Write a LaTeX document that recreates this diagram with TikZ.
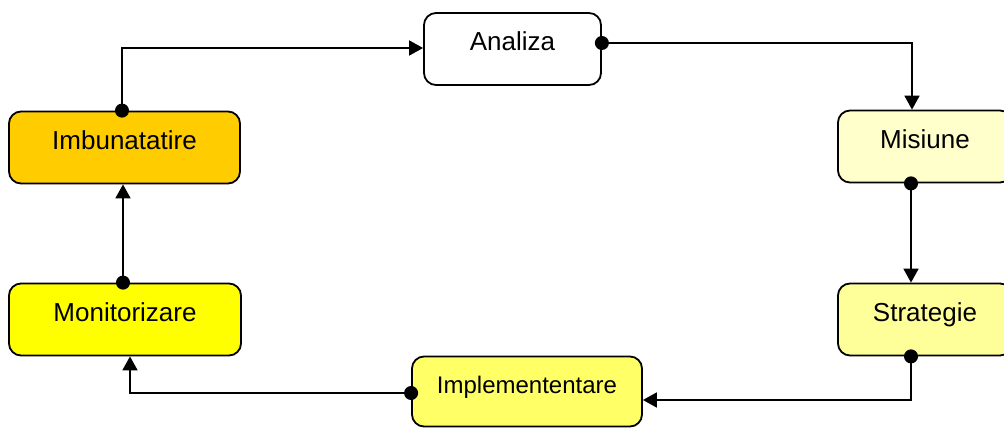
\documentclass[tikz,border=0pt]{standalone}
\usepackage{fontspec}
\setmainfont{Liberation Sans}
\usetikzlibrary{arrows.meta}
\definecolor{misiunefill}{HTML}{FFFFCC}
\definecolor{strategiefill}{HTML}{FFFF99}
\definecolor{implfill}{HTML}{FFFF66}
\definecolor{monitfill}{HTML}{FFFF00}
\definecolor{imbfill}{HTML}{FFCC00}
\begin{document}
\begin{tikzpicture}[x=1pt, y=-1pt,
    box/.style={draw, line width=1.8pt, rounded corners=12pt, minimum height=72pt,
        text height=19pt, text depth=16pt, font=\fontsize{26}{30}\selectfont},
    flow/.style={line width=1.8pt, shorten <=-7pt,
        {Circle[length=14pt]}-{Triangle[length=14pt, width=15pt]}}]
            \useasboundingbox (0,0) rectangle (1004,428);
            \node[box, minimum width=177pt, fill=white] (ana) at (512.5,49) {Analiza};
            \node[box, minimum width=174pt, fill=misiunefill] (mis) at (925,146.5) {Misiune};
            \node[box, minimum width=174pt, fill=strategiefill] (str) at (925,319.5) {Strategie};
            \node[box, minimum width=230pt, minimum height=70pt, fill=implfill,
                font=\fontsize{24}{28}\selectfont] (imp) at (527,391.5) {Implemententare};
            \node[box, minimum width=232pt, fill=monitfill] (mon) at (125,319.5) {Monitorizare};
            \node[box, minimum width=231pt, fill=imbfill] (imb) at (124.5,147.5) {Imbunatatire};

            \draw[flow] ([yshift=6pt]ana.east) -| ([xshift=-13pt]mis.north);
            \draw[flow] ([xshift=-14pt]mis.south) -- ([xshift=-14pt]str.north);
            \draw[flow] ([xshift=-14pt]str.south) |- ([yshift=-8.5pt]imp.east);
            \draw[flow] ([yshift=-1.5pt]imp.west) -| ([xshift=5pt]mon.south);
            \draw[flow] ([xshift=-2pt]mon.north) -- ([xshift=-1.5pt]imb.south);
            \draw[flow] ([xshift=-2.5pt]imb.north) |- ([yshift=1pt]ana.west);
        \end{tikzpicture}
\end{document}
